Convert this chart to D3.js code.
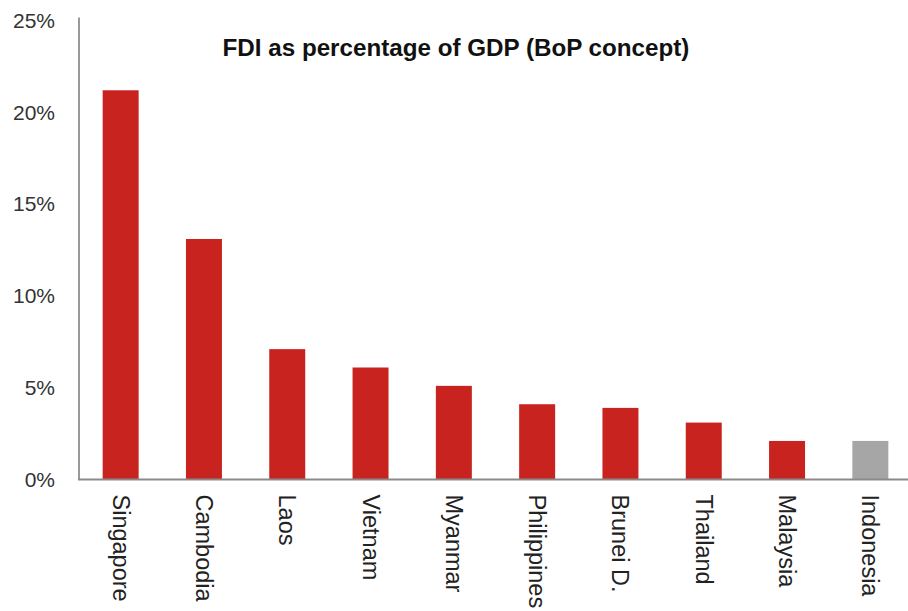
<!DOCTYPE html>
<html>
<head>
<meta charset="utf-8">
<script src="https://cdn.jsdelivr.net/npm/d3@7"></script>
<style>
  html, body { margin: 0; padding: 0; background: #fff; }
  svg { display: block; }
  text { font-family: "Liberation Sans", Arial, Helvetica, sans-serif; }
</style>
</head>
<body>
<svg id="chart" width="908" height="611"></svg>
<script>
// FDI inflows as a share of GDP, balance-of-payments basis
const countries = ["Singapore", "Cambodia", "Laos", "Vietnam", "Myanmar",
                   "Philippines", "Brunei D.", "Thailand", "Malaysia", "Indonesia"];
const fdiShare = [21.2, 13.1, 7.1, 6.1, 5.1, 4.1, 3.9, 3.1, 2.1, 2.1];
const yTicks = [0, 5, 10, 15, 20, 25];
const highlight = "Indonesia";

const svg = d3.select("#chart");
const W = 908, H = 611;
const left = 79, zeroY = 479.5, topY = 20.5;

const x = d3.scaleBand()
  .domain(countries)
  .range([left, 912])
  .paddingInner(0.568)
  .paddingOuter(0.284);

const y = d3.scaleLinear()
  .domain([0, 25])
  .range([zeroY, topY]);

// bars
svg.append("g")
  .selectAll("rect")
  .data(countries)
  .join("rect")
  .attr("x", d => x(d))
  .attr("width", x.bandwidth())
  .attr("y", (d, i) => y(fdiShare[i]))
  .attr("height", (d, i) => y(0) - y(fdiShare[i]))
  .attr("fill", d => d === highlight ? "#a6a6a6" : "#c8231e");

// y axis: line plus percentage labels, no tick marks
const yAxis = d3.axisLeft(y)
  .tickValues(yTicks)
  .tickSize(0)
  .tickPadding(24)
  .tickFormat(d => d + "%");

const gy = svg.append("g")
  .attr("transform", `translate(${left},0)`)
  .call(yAxis);
gy.select(".domain").remove();
gy.selectAll("text")
  .attr("font-size", 21)
  .attr("fill", "#333")
  .style("font-family", "'Liberation Sans', Arial, sans-serif");

svg.append("line")
  .attr("x1", left).attr("x2", left)
  .attr("y1", topY - 3).attr("y2", zeroY)
  .attr("stroke", "#9a9a9a").attr("stroke-width", 2);

// x axis baseline and rotated category labels
svg.append("line")
  .attr("x1", left - 1).attr("x2", W)
  .attr("y1", zeroY).attr("y2", zeroY)
  .attr("stroke", "#8a8a8a").attr("stroke-width", 2);

svg.append("g")
  .selectAll("text")
  .data(countries)
  .join("text")
  .attr("transform", d => `translate(${x(d) + x.bandwidth() / 2},${zeroY + 15}) rotate(90)`)
  .attr("dominant-baseline", "central")
  .attr("text-anchor", "start")
  .attr("font-size", 23.5)
  .attr("fill", "#222")
  .text(d => d);

// title
svg.append("text")
  .attr("x", 456)
  .attr("y", 56)
  .attr("text-anchor", "middle")
  .attr("font-size", 24.2)
  .attr("font-weight", "bold")
  .attr("fill", "#111")
  .text("FDI as percentage of GDP (BoP concept)");
</script>
</body>
</html>
